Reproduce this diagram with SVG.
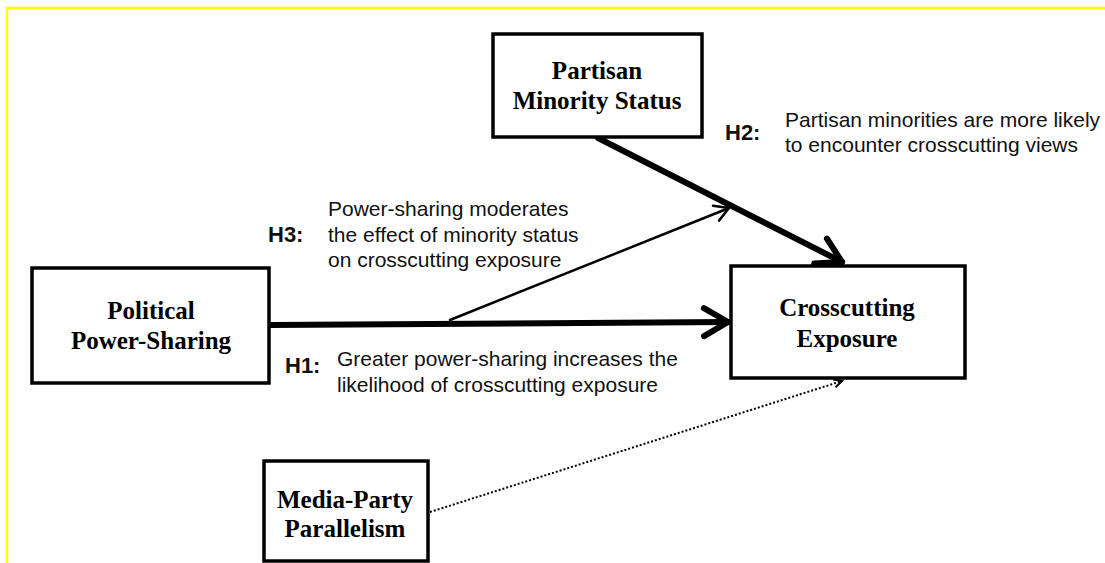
<svg xmlns="http://www.w3.org/2000/svg" width="1105" height="563" viewBox="0 0 1105 563">
<style>
.node{fill:#fff;stroke:#000;stroke-width:3.5}
.nt{font-family:"Liberation Serif","Times New Roman",serif;font-weight:bold;font-size:25px;fill:#000;text-anchor:middle}
.lab{font-family:"Liberation Sans",Arial,sans-serif;font-size:21px;fill:#111}
.hl{font-family:"Liberation Sans",Arial,sans-serif;font-size:22px;font-weight:bold;fill:#111}
.thick{stroke:#000;stroke-width:6;fill:none;stroke-linecap:round}
.thin{stroke:#000;stroke-width:2.5;fill:none;stroke-linecap:round}
.dot{stroke:#000;stroke-width:2;fill:none;stroke-dasharray:2 2}
</style>
<defs>
<marker id="mThick" viewBox="-30 -20 36 40" refX="0" refY="0" markerWidth="36" markerHeight="40" markerUnits="userSpaceOnUse" orient="auto" overflow="visible">
<path d="M-24,-14 L0,0 L-24,14" fill="none" stroke="#000" stroke-width="6" stroke-linecap="round" stroke-linejoin="round"/>
</marker>
<marker id="mThin" viewBox="-20 -12 24 24" refX="0" refY="0" markerWidth="24" markerHeight="24" markerUnits="userSpaceOnUse" orient="auto" overflow="visible">
<path d="M-14,-8 L0,0 L-14,8" fill="none" stroke="#000" stroke-width="2.5" stroke-linecap="round" stroke-linejoin="round"/>
</marker>
<marker id="mDot" viewBox="-10 -6 12 12" refX="0" refY="0" markerWidth="12" markerHeight="12" markerUnits="userSpaceOnUse" orient="auto" overflow="visible">
<path d="M-8,-4 L0,0 L-8,4" fill="none" stroke="#000" stroke-width="2"/>
</marker>
</defs>
<rect width="1105" height="563" fill="#fff"/>
<g id="border" stroke="#ffff00" stroke-width="2.5" fill="none">
<line x1="6" y1="8" x2="1105" y2="8"/>
<line x1="7" y1="7" x2="7" y2="563"/>
</g>
<g id="connectors">
<line class="thick" x1="270" y1="325" x2="728" y2="322" marker-end="url(#mThick)"/>
<line class="thick" x1="598" y1="138" x2="842" y2="262" marker-end="url(#mThick)"/>
<line class="thin" x1="450" y1="320" x2="729" y2="208" marker-end="url(#mThin)"/>
<line class="dot" x1="430" y1="512" x2="842" y2="381" marker-end="url(#mDot)"/>
</g>
<g id="node-partisan">
<rect class="node" x="493" y="34" width="209" height="103"/>
<text class="nt" x="597" y="79">Partisan</text>
<text class="nt" x="597" y="109">Minority Status</text>
</g>
<g id="node-political">
<rect class="node" x="32" y="268" width="237" height="115"/>
<text class="nt" x="151" y="319">Political</text>
<text class="nt" x="151" y="349">Power-Sharing</text>
</g>
<g id="node-crosscutting">
<rect class="node" x="731" y="266" width="234" height="112"/>
<text class="nt" x="847" y="316">Crosscutting</text>
<text class="nt" x="847" y="347">Exposure</text>
</g>
<g id="node-media">
<rect class="node" x="264" y="461" width="164" height="100"/>
<text class="nt" x="345" y="508">Media-Party</text>
<text class="nt" x="345" y="537">Parallelism</text>
</g>
<g id="label-h2">
<text class="hl" x="725" y="140">H2:</text>
<text class="lab" x="785" y="127">Partisan minorities are more likely</text>
<text class="lab" x="785" y="152">to encounter crosscutting views</text>
</g>
<g id="label-h3">
<text class="hl" x="268" y="242">H3:</text>
<text class="lab" x="328" y="216">Power-sharing moderates</text>
<text class="lab" x="328" y="242">the effect of minority status</text>
<text class="lab" x="328" y="267">on crosscutting exposure</text>
</g>
<g id="label-h1">
<text class="hl" x="285" y="373">H1:</text>
<text class="lab" x="337" y="366">Greater power-sharing increases the</text>
<text class="lab" x="337" y="392">likelihood of crosscutting exposure</text>
</g>
</svg>
